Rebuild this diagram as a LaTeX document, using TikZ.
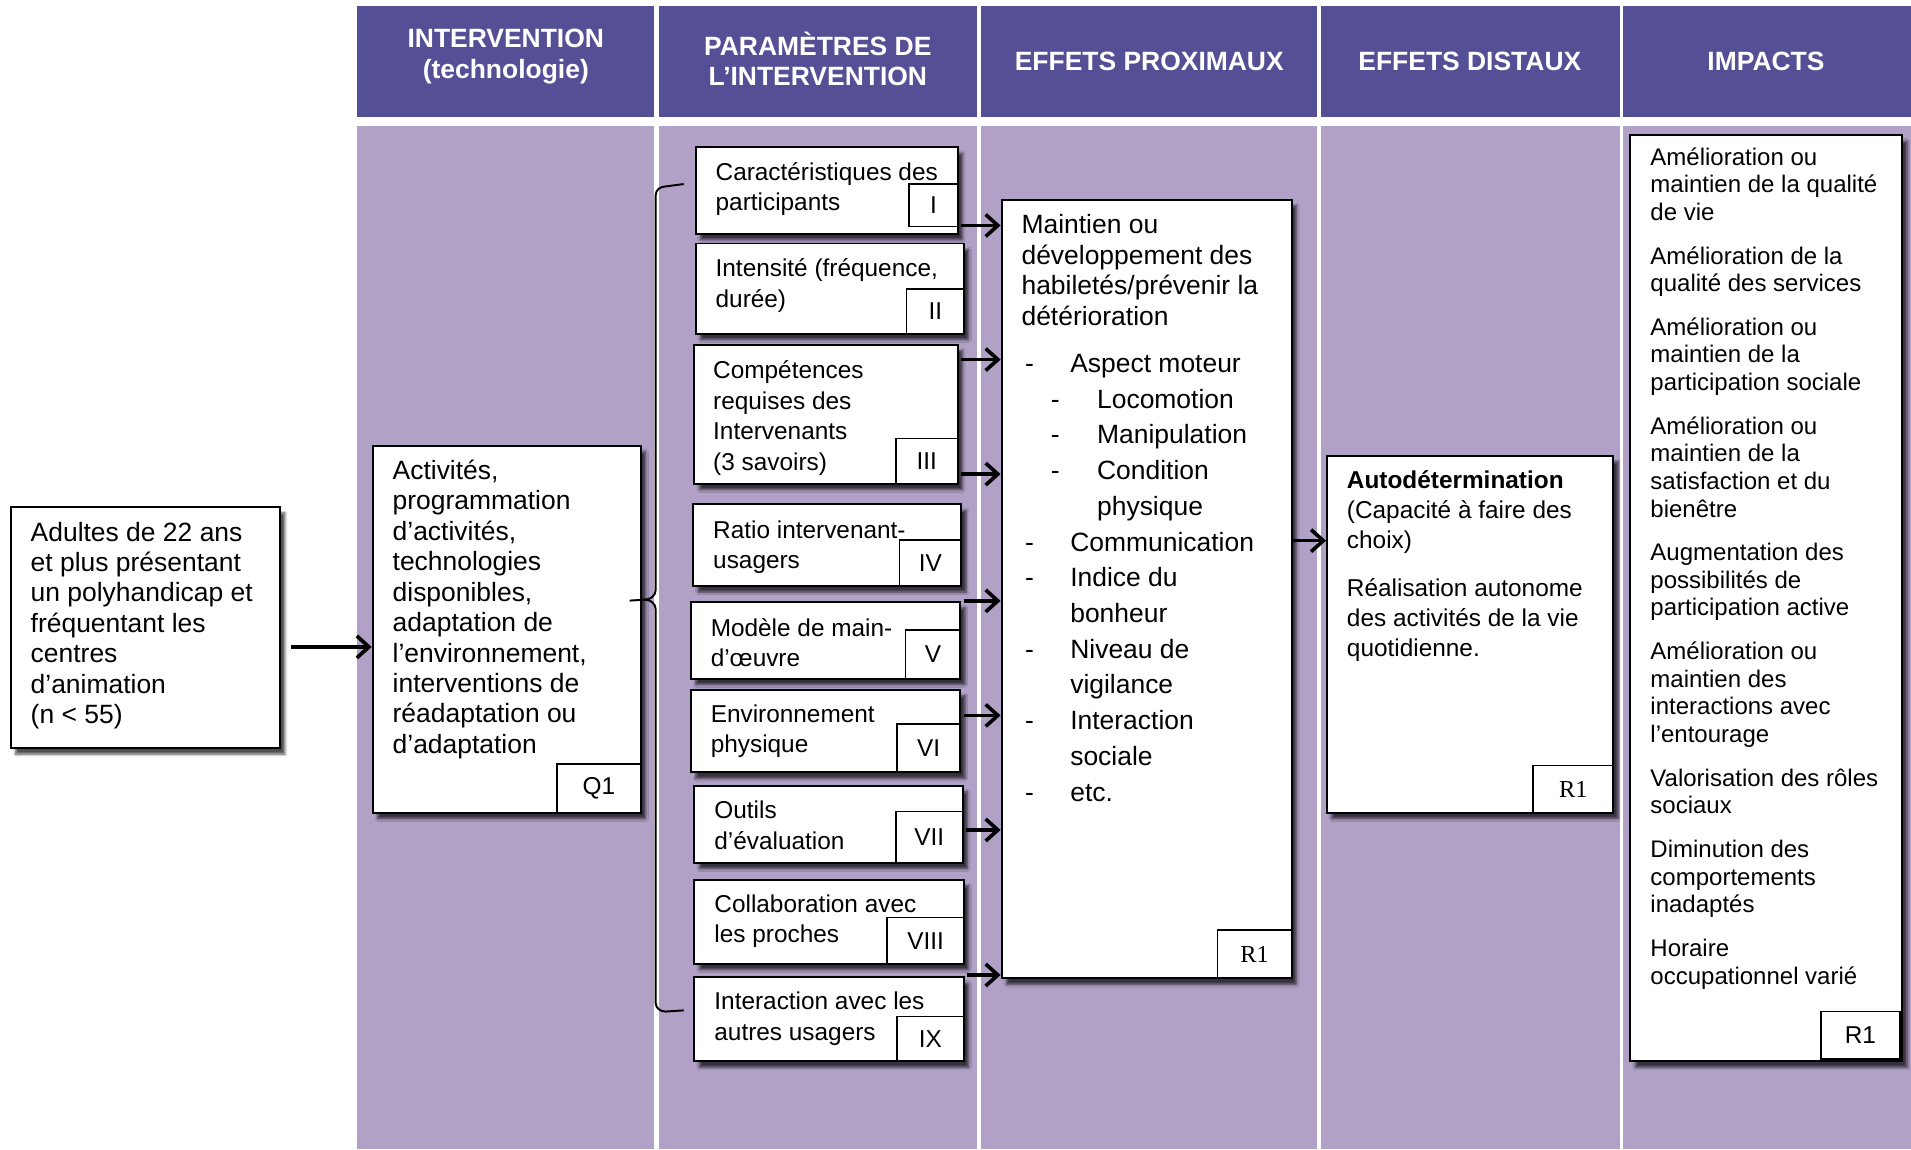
\documentclass[tikz,border=0pt]{standalone}
\usepackage{fontspec}
\setmainfont{Liberation Sans}
\newfontfamily\serifR{Liberation Serif}
\usetikzlibrary{positioning,arrows.meta,shadows.blur}
\definecolor{headpurple}{RGB}{85,79,149}
\definecolor{bodylilac}{RGB}{177,161,199}
\newcommand{\lvone}{\makebox[40pt][l]{\hspace*{3pt}-}}
\newcommand{\lvtwo}{\makebox[62pt][l]{\hspace*{24pt}-}}

\begin{document}
\begin{tikzpicture}[x=1pt, y=-1pt,
    hdrtext/.style = {text=white, align=center, inner sep=0pt,
      font=\fontsize{21.7}{25}\selectfont\bfseries},
    box/.style = {draw, line width=1.6pt, fill=white, inner sep=0pt,
      anchor=north west,
      blur shadow={shadow xshift=4pt, shadow yshift=-5pt, shadow blur steps=6,
        shadow opacity=70}},
    txt/.style = {anchor=north west, inner sep=0pt, align=left,
      font=\fontsize{21.7}{25}\selectfont},
    partxt/.style = {txt, font=\fontsize{20}{25}\selectfont},
    tag/.style = {draw, line width=1.3pt, inner sep=0pt, anchor=south east,
      font=\fontsize{20}{24}\selectfont},
    link/.style = {line width=3pt, -{Straight Barb[length=10pt, width=18pt]}},
    brace/.style = {line width=1.6pt}]

  \useasboundingbox (0,0) rectangle (1568,943);

  % columns and headers
  \foreach \xa/\xb in {293/537, 541/802, 805/1081, 1084/1329, 1332/1568} {
    \fill[headpurple] (\xa,5) rectangle (\xb,96);
    \fill[bodylilac] (\xa,103) rectangle (\xb,943);
  }
  \node[hdrtext, anchor=north] (hInt) at (415,24) {INTERVENTION\\(technologie)};
  \node[hdrtext, anchor=north] (hPar) at (671,26) {PARAMÈTRES DE\\L’INTERVENTION};
  \node[hdrtext] (hProx) at (943,50) {EFFETS PROXIMAUX};
  \node[hdrtext] (hDist) at (1206,50) {EFFETS DISTAUX};
  \node[hdrtext] (hImp) at (1449,50) {IMPACTS};

  % population and intervention
  \node[box, minimum width=221, minimum height=198] (pop) at (8,415) {};
  \node[txt] (popTxt) at ([shift={(17,13)}]pop.north west)
    {Adultes de 22 ans\\et plus présentant\\un polyhandicap et\\fréquentant les\\centres\\d’animation\\(n < 55)};
  \node[box, minimum width=220, minimum height=301] (act) at (305,365) {};
  \node[txt] (actTxt) at ([shift={(17,12)}]act.north west)
    {Activités,\\programmation\\d’activités,\\technologies\\disponibles,\\adaptation de\\l’environnement,\\interventions de\\réadaptation ou\\d’adaptation};
  \node[tag, minimum width=69, minimum height=40] (actTag) at (act.south east) {Q1};
  \draw[link] ([shift={(8,16)}]pop.east) coordinate (popOut) -- (popOut -| act.west);

  % parameters
  \node[box, minimum width=215, minimum height=71] (pI) at (570,120) {};
  \node[partxt] at ([shift={(17,13)}]pI.north west) {Caractéristiques des\\participants};
  \node[tag, minimum width=40, minimum height=35] (tI) at ([yshift=6pt]pI.south east) {I};

  \node[box, minimum width=220, minimum height=74] (pII) at (570,199) {};
  \node[partxt] at ([shift={(17,13)}]pII.north west) {Intensité (fréquence,\\durée)};
  \node[tag, minimum width=47, minimum height=37] (tII) at (pII.south east) {II};

  \node[box, minimum width=216, minimum height=114] (pIII) at (569,282) {};
  \node[partxt] at ([shift={(16,14)}]pIII.north west) {Compétences\\requises des\\Intervenants\\(3 savoirs)};
  \node[tag, minimum width=51, minimum height=37] (tIII) at (pIII.south east) {III};

  \node[box, minimum width=220, minimum height=67] (pIV) at (568,413) {};
  \node[partxt] at ([shift={(17,14)}]pIV.north west) {Ratio intervenant-\\usagers};
  \node[tag, minimum width=51, minimum height=38] (tIV) at (pIV.south east) {IV};

  \node[box, minimum width=221, minimum height=63] (pV) at (566,493) {};
  \node[partxt] at ([shift={(17,14)}]pV.north west) {Modèle de main-\\d’œuvre};
  \node[tag, minimum width=45, minimum height=40] (tV) at (pV.south east) {V};

  \node[box, minimum width=221, minimum height=68] (pVI) at (566,565) {};
  \node[partxt] at ([shift={(17,13)}]pVI.north west) {Environnement\\physique};
  \node[tag, minimum width=52, minimum height=40] (tVI) at (pVI.south east) {VI};

  \node[box, minimum width=220, minimum height=63] (pVII) at (569,644) {};
  \node[partxt] at ([shift={(17,13)}]pVII.north west) {Outils\\d’évaluation};
  \node[tag, minimum width=55, minimum height=42] (tVII) at (pVII.south east) {VII};

  \node[box, minimum width=221, minimum height=69] (pVIII) at (569,721) {};
  \node[partxt] at ([shift={(17,13)}]pVIII.north west) {Collaboration avec\\les proches};
  \node[tag, minimum width=63, minimum height=38] (tVIII) at (pVIII.south east) {VIII};

  \node[box, minimum width=221, minimum height=69] (pIX) at (569,801) {};
  \node[partxt] at ([shift={(17,13)}]pIX.north west) {Interaction avec les\\autres usagers};
  \node[tag, minimum width=55, minimum height=37] (tIX) at (pIX.south east) {IX};

  % brace
  \coordinate (braceTip) at (529,492);
  \draw[brace] (561,151) -- (546,153) to[out=180,in=90] (538,160) -- (538,484)
    to[out=270,in=0] (braceTip) to[out=0,in=90] (538,500) -- (538,823)
    to[out=270,in=180] (546,830) -- (561,829);
  \draw[brace] ([shift={(-10,-23.5)}]act.east) -- (braceTip);

  % proximal effects
  \node[box, minimum width=238, minimum height=639] (prox) at (821,163) {};
  \node[txt] (proxTxt) at ([shift={(17,13)}]prox.north west)
    {Maintien ou\\développement des\\habiletés/prévenir la\\détérioration};
  \node[txt, font=\fontsize{21.7}{29.3}\selectfont] (proxList) at ([shift={(17,127.5)}]prox.north west)
    {\lvone Aspect moteur\\\lvtwo Locomotion\\\lvtwo Manipulation\\\lvtwo Condition\\\hspace*{62pt}physique\\
     \lvone Communication\\\lvone Indice du\\\hspace*{40pt}bonheur\\\lvone Niveau de\\\hspace*{40pt}vigilance\\
     \lvone Interaction\\\hspace*{40pt}sociale\\\lvone etc.};
  \node[tag, minimum width=61, minimum height=40, font=\serifR\fontsize{20}{24}\selectfont] (proxTag) at (prox.south east) {R1};

  \foreach \src/\dy in {pI/65, pIII/13, pIII/107, pV/0, pVI/22, pVII/37, pIX/-1}
    \draw[link] ([shift={(2,\dy)}]\src.north east) coordinate (a) -- (a -| prox.west);

  % distal effects
  \node[box, minimum width=235, minimum height=293] (dist) at (1088,373) {};
  \node[txt, font=\fontsize{20}{24.5}\selectfont] (distTxt) at ([shift={(17,13)}]dist.north west)
    {\textbf{Autodétermination}\\(Capacité à faire des\\choix)\\[15pt]Réalisation autonome\\des activités de la vie\\quotidienne.};
  \node[tag, minimum width=66, minimum height=39, font=\serifR\fontsize{20}{24}\selectfont] (distTag) at (dist.south east) {R1};
  \draw[link] ([yshift=-70.6pt]dist.north west) coordinate (b) (b -| prox.east) -- (b);

  % impacts
  \node[box, minimum width=223, minimum height=760] (imp) at (1337,110) {};
  \node[txt, font=\fontsize{19.7}{22.6}\selectfont] (impTxt) at ([shift={(17,10.7)}]imp.north west)
    {Amélioration ou\\maintien de la qualité\\de vie\\[13.4pt]
     Amélioration de la\\qualité des services\\[13.4pt]
     Amélioration ou\\maintien de la\\participation sociale\\[13.4pt]
     Amélioration ou\\maintien de la\\satisfaction et du\\bienêtre\\[13.4pt]
     Augmentation des\\possibilités de\\participation active\\[13.4pt]
     Amélioration ou\\maintien des\\interactions avec\\l’entourage\\[13.4pt]
     Valorisation des rôles\\sociaux\\[13.4pt]
     Diminution des\\comportements\\inadaptés\\[13.4pt]
     Horaire\\occupationnel varié};
  \node[tag, minimum width=65, minimum height=39] (impTag) at ([shift={(-2,-2)}]imp.south east) {R1};
\end{tikzpicture}
\end{document}
